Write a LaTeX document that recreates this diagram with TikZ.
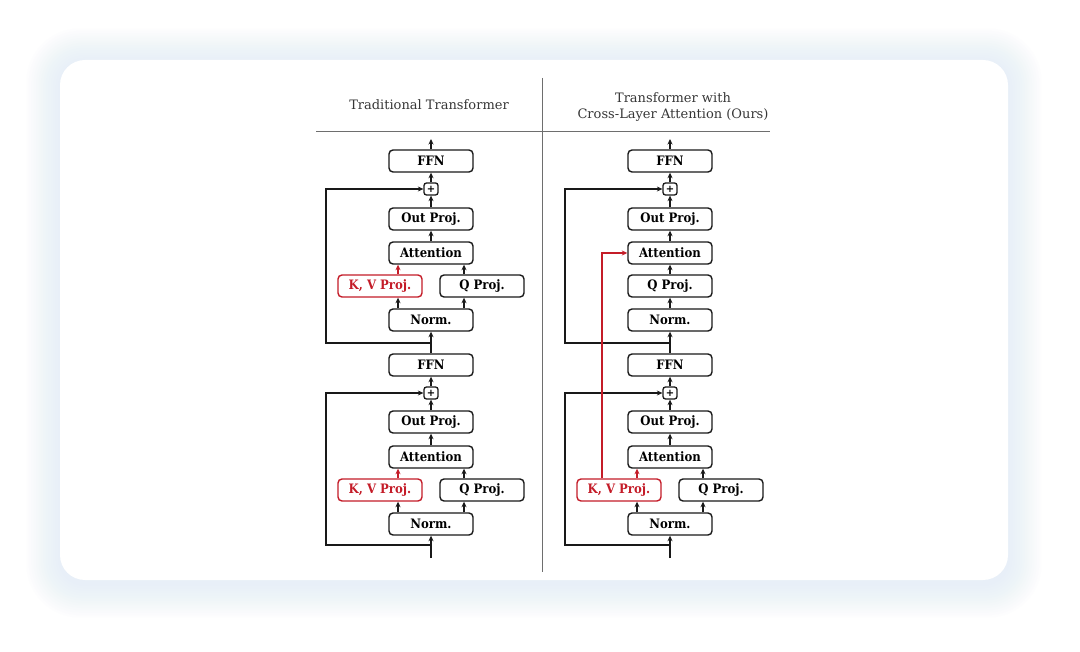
\documentclass[tikz,border=0pt]{standalone}
\usepackage{fontspec}
\setmainfont{DejaVu Serif}
\newfontfamily\boxfont{DejaVu Serif Condensed}
\usetikzlibrary{arrows.meta}
\definecolor{kvred}{RGB}{196,28,40}
\definecolor{ttl}{RGB}{55,55,55}
\definecolor{shd}{RGB}{196,210,248}
\definecolor{rule}{RGB}{110,110,110}
\begin{document}
\begin{tikzpicture}[x=1pt,y=-1pt,
  blk/.style={draw=black!90, line width=1.4pt, rounded corners=4pt, minimum width=84pt, minimum height=22pt, inner sep=0pt, font=\boxfont\fontsize{13}{14}\selectfont\bfseries, text=black, fill=white},
  kv/.style={blk, draw=kvred, text=kvred},
  plusbox/.style={draw=black!90, line width=1.3pt, rounded corners=2.5pt, minimum width=14pt, minimum height=12pt, inner sep=0pt, font=\fontsize{10}{10}\selectfont\bfseries, fill=white},
  arr/.style={-{Stealth[length=5.5pt,width=5pt]}, line width=1.3pt, draw=black!90},
  rarr/.style={arr, draw=kvred, color=kvred},
  ttlf/.style={font=\fontsize{13}{16}\selectfont, text=ttl, align=center}
]
\useasboundingbox (0,0) rectangle (1080,652);
\fill[white] (0,0) rectangle (1080,652);
% shadow
\foreach \i in {1,...,14}{
  \fill[shd, opacity=0.022, rounded corners={25+\i*2}] (60-\i*2.4,62-\i*2.4) rectangle (1008+\i*2.4,584+\i*2.4);
}
\fill[white, rounded corners=25] (60,60) rectangle (1008,580);

% rules
\draw[rule, line width=0.9pt] (316,131) -- (770,131);
\draw[rule, line width=0.9pt] (542,78) -- (542,572);

% titles
\node[ttlf] (t1) at (429,105) {Traditional Transformer};
\node[ttlf] (t2) at (673,107) {Transformer with\\Cross-Layer Attention (Ours)};

% ---------- left column ----------
\coordinate (T1) at (431,139);
\node[blk] (F1) at (431,161) {FFN};
\node[plusbox] (P1) at (431,189) {+};
\node[blk] (O1) at (431,219) {Out Proj.};
\node[blk] (A1) at (431,253) {Attention};
\node[kv] (KV1) at (380,286) {K, V Proj.};
\node[blk] (Q1) at (482,286) {Q Proj.};
\node[blk] (N1) at (431,320) {Norm.};

\node[blk] (F2) at (431,365) {FFN};
\node[plusbox] (P2) at (431,393) {+};
\node[blk] (O2) at (431,422) {Out Proj.};
\node[blk] (A2) at (431,457) {Attention};
\node[kv] (KV2) at (380,490) {K, V Proj.};
\node[blk] (Q2) at (482,490) {Q Proj.};
\node[blk] (N2) at (431,524) {Norm.};
\coordinate (B1) at (431,558);
\coordinate (R1) at (431,343);
\coordinate (R2) at (431,545);
\coordinate (L1) at (326,0);
\coordinate (ka) at (398,0);
\coordinate (qa) at (464,0);

\draw[arr] (F1.north) -- (T1);
\draw[arr] (P1.north) -- (F1.south);
\draw[arr] (O1.north) -- (P1.south);
\draw[arr] (A1.north) -- (O1.south);
\draw[rarr] (KV1.north -| ka) -- (A1.south -| ka);
\draw[arr] (Q1.north -| qa) -- (A1.south -| qa);
\draw[arr] (N1.north -| ka) -- (KV1.south -| ka);
\draw[arr] (N1.north -| qa) -- (Q1.south -| qa);
\draw[arr] (F2.north) -- (N1.south);
\draw[arr] (R1) -- (R1 -| L1) |- (P1.west);

\draw[arr] (P2.north) -- (F2.south);
\draw[arr] (O2.north) -- (P2.south);
\draw[arr] (A2.north) -- (O2.south);
\draw[rarr] (KV2.north -| ka) -- (A2.south -| ka);
\draw[arr] (Q2.north -| qa) -- (A2.south -| qa);
\draw[arr] (N2.north -| ka) -- (KV2.south -| ka);
\draw[arr] (N2.north -| qa) -- (Q2.south -| qa);
\draw[arr] (B1) -- (N2.south);
\draw[arr] (R2) -- (R2 -| L1) |- (P2.west);

% ---------- right column ----------
\coordinate (T3) at (670,139);
\node[blk] (F3) at (670,161) {FFN};
\node[plusbox] (P3) at (670,189) {+};
\node[blk] (O3) at (670,219) {Out Proj.};
\node[blk] (A3) at (670,253) {Attention};
\node[blk] (Q3) at (670,286) {Q Proj.};
\node[blk] (N3) at (670,320) {Norm.};

\node[blk] (F4) at (670,365) {FFN};
\node[plusbox] (P4) at (670,393) {+};
\node[blk] (O4) at (670,422) {Out Proj.};
\node[blk] (A4) at (670,457) {Attention};
\node[kv] (KV4) at (619,490) {K, V Proj.};
\node[blk] (Q4) at (721,490) {Q Proj.};
\node[blk] (N4) at (670,524) {Norm.};
\coordinate (B3) at (670,558);
\coordinate (R3) at (670,343);
\coordinate (R4) at (670,545);
\coordinate (L3) at (565,0);
\coordinate (kb) at (637,0);
\coordinate (qb) at (703,0);
\coordinate (rv) at (602,0);

\draw[arr] (F3.north) -- (T3);
\draw[arr] (P3.north) -- (F3.south);
\draw[arr] (O3.north) -- (P3.south);
\draw[arr] (A3.north) -- (O3.south);
\draw[arr] (Q3.north) -- (A3.south);
\draw[arr] (N3.north) -- (Q3.south);
\draw[arr] (F4.north) -- (N3.south);
\draw[arr] (R3) -- (R3 -| L3) |- (P3.west);

\draw[arr] (P4.north) -- (F4.south);
\draw[arr] (O4.north) -- (P4.south);
\draw[arr] (A4.north) -- (O4.south);
\draw[rarr] (KV4.north -| kb) -- (A4.south -| kb);
\draw[arr] (Q4.north -| qb) -- (A4.south -| qb);
\draw[arr] (N4.north -| kb) -- (KV4.south -| kb);
\draw[arr] (N4.north -| qb) -- (Q4.south -| qb);
\draw[arr] (B3) -- (N4.south);
\draw[arr] (R4) -- (R4 -| L3) |- (P4.west);
\draw[rarr] (KV4.north -| rv) -- (A3.west -| rv) -- (A3.west);
\end{tikzpicture}
\end{document}
